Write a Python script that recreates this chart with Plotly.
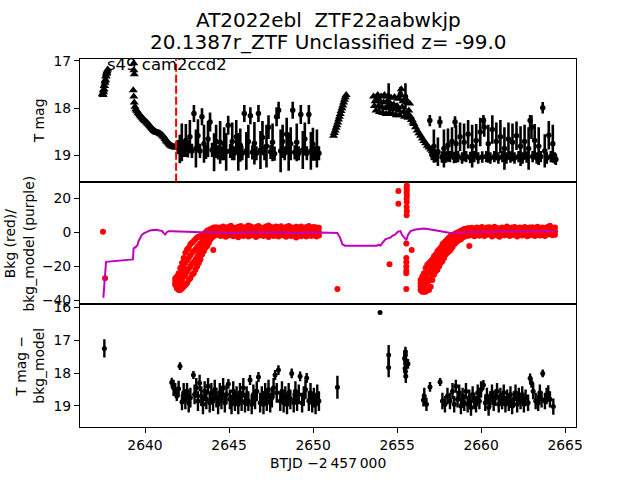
import plotly.graph_objects as go
from plotly.subplots import make_subplots

# ---------------- data (BTJD - 2457000) ----------------
# top panel: upper-limit triangles
lim_t = [2637.50, 2637.53, 2637.56, 2637.59, 2637.62, 2637.65, 2637.68, 2637.71, 2637.74,
         2637.47, 2637.52, 2637.57, 2637.62, 2637.67, 2637.72, 2637.78,
         2639.33, 2639.34, 2639.36,
         2639.30, 2639.33, 2639.36, 2639.40, 2639.45, 2639.55, 2639.65, 2639.75, 2639.85, 2639.95,
         2640.05, 2640.15, 2640.25, 2640.35, 2640.45, 2640.55, 2640.65, 2640.75, 2640.85, 2640.95,
         2641.05, 2641.15, 2641.25, 2641.35, 2641.45, 2641.55, 2641.65, 2641.75, 2641.85,
         2639.50, 2639.60, 2639.70, 2639.80, 2639.90, 2640.00, 2640.10, 2640.20, 2640.30, 2640.40,
         2640.50, 2640.60, 2640.70, 2640.80, 2640.90, 2641.00, 2641.10, 2641.20, 2641.30, 2641.40,
         2641.50, 2641.60, 2641.70, 2641.80,
         2651.22, 2651.27, 2651.32, 2651.37, 2651.42, 2651.47, 2651.52, 2651.57, 2651.62, 2651.67,
         2651.72, 2651.77, 2651.82, 2651.87, 2651.92, 2651.97,
         2653.60, 2653.70, 2653.80, 2653.90, 2654.00, 2654.10, 2654.20, 2654.30, 2654.40, 2654.50,
         2654.60, 2654.70, 2654.80, 2654.90, 2655.00, 2655.10, 2655.20, 2655.25, 2655.30, 2655.40,
         2655.50, 2655.60, 2655.70, 2655.75, 2655.80, 2655.90, 2656.00, 2656.10, 2656.20, 2656.30,
         2656.40, 2656.50, 2656.60, 2656.70, 2656.80, 2656.90, 2657.00, 2657.10, 2657.20, 2657.30,
         2653.65, 2653.75, 2653.85, 2653.95, 2654.05, 2654.15, 2654.25, 2654.35, 2654.45, 2654.55,
         2654.65, 2654.75, 2654.85, 2654.95, 2655.05, 2655.15, 2655.35, 2655.45, 2655.55, 2655.65,
         2655.85, 2655.95]
lim_m = [17.72, 17.66, 17.60, 17.53, 17.46, 17.40, 17.33, 17.27, 17.22,
         17.70, 17.62, 17.52, 17.42, 17.32, 17.25, 17.18,
         17.05, 17.20, 17.28,
         17.62, 17.75, 17.88, 17.97, 18.02, 18.07, 18.12, 18.17, 18.21, 18.25,
         18.28, 18.32, 18.36, 18.40, 18.44, 18.48, 18.50, 18.52, 18.53, 18.55,
         18.58, 18.62, 18.68, 18.72, 18.76, 18.79, 18.81, 18.82, 18.83,
         18.05, 18.10, 18.15, 18.19, 18.23, 18.27, 18.30, 18.34, 18.38, 18.42,
         18.46, 18.49, 18.51, 18.52, 18.54, 18.56, 18.60, 18.65, 18.70, 18.74,
         18.78, 18.80, 18.82, 18.83,
         18.58, 18.52, 18.47, 18.41, 18.36, 18.30, 18.24, 18.18, 18.12, 18.06,
         18.00, 17.94, 17.88, 17.82, 17.77, 17.72,
         17.75, 17.85, 17.80, 17.95, 17.85, 17.98, 17.88, 18.00, 17.86, 17.95,
         17.90, 18.02, 17.92, 18.00, 17.95, 18.05, 17.72, 17.60, 17.98, 18.08,
         17.80, 18.10, 18.05, 17.90, 18.18, 18.25, 18.33, 18.40, 18.47, 18.53,
         18.58, 18.64, 18.69, 18.74, 18.79, 18.83, 18.87, 18.90, 18.92, 18.94,
         17.95, 18.05, 17.72, 18.08, 17.75, 18.10, 17.72, 18.12, 17.75, 18.10,
         17.78, 18.12, 17.76, 18.15, 17.80, 18.15, 17.85, 18.18, 17.88, 18.20,
         18.25, 18.30]

# top panel: detections with errors
det_t = [2641.95, 2642.07, 2642.19, 2642.31, 2642.43, 2642.55, 2642.67, 2642.79, 2642.91, 2643.03,
         2643.15, 2643.27, 2643.39, 2643.51, 2643.63, 2643.75, 2643.87, 2643.99, 2644.11, 2644.23,
         2644.35, 2644.47, 2644.59, 2644.71, 2644.83, 2644.95, 2645.07, 2645.19, 2645.31, 2645.43,
         2645.55, 2645.67, 2645.79, 2645.91, 2646.03, 2646.15, 2646.27, 2646.39, 2646.51, 2646.63,
         2646.75, 2646.87, 2646.99, 2647.11, 2647.23, 2647.35, 2647.47, 2647.59, 2647.71, 2647.83,
         2647.95, 2648.07, 2648.19, 2648.31, 2648.43, 2648.55, 2648.67, 2648.79, 2648.91, 2649.03,
         2649.15, 2649.27, 2649.39, 2649.51, 2649.63, 2649.75, 2649.87, 2649.99, 2650.11, 2650.23,
         2650.35,
         2654.50, 2655.50, 2655.20,
         2656.95, 2657.07, 2657.19, 2657.31, 2657.43, 2657.55, 2657.67, 2657.79, 2657.91, 2658.03,
         2658.15, 2658.27, 2658.39, 2658.45, 2658.51, 2658.63, 2658.75, 2658.87, 2658.99, 2659.11,
         2659.23, 2659.35, 2659.47, 2659.59, 2659.71, 2659.83, 2659.95, 2660.07, 2660.14, 2660.19,
         2660.31, 2660.43, 2660.55, 2660.67, 2660.79, 2660.91, 2661.03, 2661.15, 2661.27, 2661.39,
         2661.51, 2661.63, 2661.75, 2661.87, 2661.99, 2662.11, 2662.23, 2662.35, 2662.47, 2662.59,
         2662.71, 2662.83, 2662.92, 2663.00, 2663.07, 2663.19, 2663.31, 2663.43, 2663.55, 2663.67,
         2663.79, 2663.91, 2664.03, 2664.15, 2664.27, 2664.39, 2664.45]
det_m = [18.82, 18.86, 18.72, 18.88, 18.68, 18.86, 18.60, 18.90, 18.11, 18.85,
         18.58, 18.90, 18.18, 18.75, 18.92, 18.65, 18.29, 18.88, 18.93, 18.70,
         18.93, 18.72, 18.95, 18.75, 18.92, 18.36, 18.90, 18.70, 18.95, 18.60,
         18.92, 18.78, 18.95, 18.11, 18.90, 18.70, 18.16, 18.93, 18.74, 18.95,
         18.11, 18.88, 18.62, 18.95, 18.80, 18.40, 18.92, 18.72, 18.96, 18.18,
         18.04, 18.90, 18.70, 18.95, 18.55, 18.92, 18.75, 18.04, 18.93, 18.72,
         18.95, 18.13, 18.88, 18.65, 18.95, 18.13, 18.90, 18.76, 18.96, 18.85,
         18.95,
         17.75, 17.75, 17.70,
         18.26, 18.98, 18.80, 19.02, 18.92, 18.29, 19.03, 18.85, 19.03, 18.78,
         19.02, 18.70, 19.04, 18.29, 18.75, 19.02, 18.60, 19.05, 18.72, 19.02,
         18.55, 19.04, 18.80, 19.02, 18.68, 19.05, 18.50, 19.03, 18.26, 18.40,
         19.02, 18.75, 19.05, 18.45, 19.02, 18.70, 19.05, 18.60, 19.02, 18.85,
         19.05, 18.65, 19.03, 18.72, 19.05, 18.58, 19.02, 18.80, 19.05, 18.70,
         19.03, 18.85, 18.26, 18.40, 19.02, 18.68, 19.05, 18.80, 19.02, 17.99,
         18.90, 19.05, 18.57, 19.02, 18.75, 19.05, 19.08]
det_e = [0.15, 0.30, 0.40, 0.15, 0.35, 0.18, 0.35, 0.15, 0.18, 0.40,
         0.35, 0.15, 0.18, 0.40, 0.15, 0.38, 0.20, 0.15, 0.40, 0.35,
         0.15, 0.45, 0.15, 0.35, 0.40, 0.20, 0.15, 0.40, 0.15, 0.35,
         0.40, 0.35, 0.15, 0.18, 0.40, 0.35, 0.18, 0.15, 0.45, 0.15,
         0.18, 0.40, 0.35, 0.15, 0.45, 0.25, 0.15, 0.40, 0.15, 0.20,
         0.18, 0.45, 0.35, 0.15, 0.35, 0.40, 0.35, 0.18, 0.15, 0.40,
         0.15, 0.20, 0.40, 0.35, 0.15, 0.20, 0.40, 0.35, 0.15, 0.40,
         0.15,
         0.28, 0.28, 0.15,
         0.12, 0.12, 0.35, 0.12, 0.30, 0.12, 0.12, 0.40, 0.12, 0.35,
         0.12, 0.30, 0.12, 0.12, 0.40, 0.12, 0.30, 0.12, 0.40, 0.12,
         0.30, 0.12, 0.45, 0.12, 0.35, 0.12, 0.30, 0.12, 0.12, 0.20,
         0.12, 0.40, 0.12, 0.30, 0.12, 0.40, 0.12, 0.35, 0.12, 0.45,
         0.12, 0.35, 0.12, 0.40, 0.12, 0.30, 0.12, 0.42, 0.12, 0.35,
         0.12, 0.45, 0.12, 0.25, 0.12, 0.35, 0.12, 0.40, 0.12, 0.12,
         0.35, 0.12, 0.30, 0.12, 0.40, 0.12, 0.12]

# middle panel: background (red)
rise1_t = [2641.8, 2641.9, 2642.0, 2642.1, 2642.2, 2642.3, 2642.4, 2642.5, 2642.6, 2642.7,
           2642.8, 2642.9, 2643.0, 2643.1, 2643.2, 2643.3, 2643.4, 2643.5, 2643.6, 2643.7,
           2643.8, 2643.9, 2644.0, 2644.1, 2644.2, 2644.3]
rise1_a = [-27, -26, -24, -21, -18, -15, -12, -10, -9, -7, -6, -5, -4, -3, -2.5, -2, -1.5, -1, 0, 1,
           1.5, 2, 2.5, 3, 3, 3]
rise1_b = [-28.5, -28.5, -27.5, -25.5, -23, -20.5, -18, -16.5, -15, -13.5, -12, -11, -10, -8.5, -7.5,
           -6.5, -5.5, -4.5, -3, -2, -1, -0.5, 0.5, 1, 1.5, 1.5]
rise1_c = [-30, -31, -31, -30, -28, -26, -25, -23, -21.5, -20, -18.5, -17.5, -16, -14.5, -13,
           -11.5, -9.5, -8, -6, -5, -3.5, -2.5, -1.5, -0.5, 0, 0.5]
rise1_d = [-31, -33, -34, -34, -33, -32, -31, -30, -28, -27, -25, -24, -22, -20, -18, -16, -13,
           -11, -9, -8, -6, -4, -3, -2, -1, -1]

flat1_t = [2644.35, 2644.50, 2644.65, 2644.80, 2644.95, 2645.10, 2645.25, 2645.40, 2645.55, 2645.70,
           2645.85, 2646.00, 2646.15, 2646.30, 2646.45, 2646.60, 2646.75, 2646.90, 2647.05, 2647.20,
           2647.35, 2647.50, 2647.65, 2647.80, 2647.95, 2648.10, 2648.25, 2648.40, 2648.55, 2648.70,
           2648.85, 2649.00, 2649.15, 2649.30, 2649.45, 2649.60, 2649.75, 2649.90, 2650.05, 2650.20,
           2650.35]
flat1_hi = [2.5, 3.0, 3.5, 2.8, 3.2, 4.0, 3.0, 2.6, 3.4, 3.8, 2.9, 3.1, 4.2, 3.5, 2.7, 3.3, 3.9, 3.0,
            2.8, 3.6, 4.1, 3.2, 2.9, 3.5, 3.0, 3.7, 2.6, 3.3, 3.9, 3.1, 2.8, 3.4, 3.0, 3.6, 2.7, 3.2,
            3.8, 2.9, 3.3, 3.0, 2.8]
flat1_mid = [0.8, 0.5, 1.2, 0.3, 0.9, 1.4, 0.6, 0.2, 1.0, 1.3, 0.4, 0.7, 1.5, 0.9, 0.1, 0.8, 1.2, 0.5,
             0.3, 1.1, 1.4, 0.6, 0.2, 0.9, 0.5, 1.2, 0.1, 0.7, 1.3, 0.6, 0.3, 0.9, 0.4, 1.1, 0.2, 0.7,
             1.2, 0.4, 0.8, 0.5, 0.3]
flat1_lo = [-1.5, -2.0, -1.0, -2.5, -1.8, -1.2, -2.2, -1.6, -2.8, -1.4, -2.0, -1.1, -2.4, -1.7, -1.0,
            -2.6, -1.9, -1.3, -2.1, -1.5, -2.7, -1.2, -2.0, -1.6, -2.3, -1.1, -1.8, -2.5, -1.4, -2.0,
            -1.7, -2.9, -1.3, -2.2, -1.5, -2.4, -1.0, -2.1, -1.6, -2.3, -1.8]

rise2_t = [2656.4, 2656.5, 2656.6, 2656.7, 2656.8, 2656.9, 2657.0, 2657.1, 2657.2, 2657.3,
           2657.4, 2657.5, 2657.6, 2657.7, 2657.8, 2657.9, 2658.0, 2658.1, 2658.2, 2658.3,
           2658.4, 2658.5, 2658.6, 2658.7, 2658.8, 2658.9, 2659.0, 2659.1, 2659.2]
rise2_a = [-28, -26, -24, -21, -19, -18, -17, -16, -14, -13, -11, -10, -9, -7, -6, -5, -4, -3, -2,
           -1.5, -1, -0.5, 0, 0.5, 1, 1.5, 2, 2.2, 2.5]
rise2_b = [-30, -29, -28, -26, -24, -23, -22, -20, -18, -16.5, -14.5, -13.5, -12, -10.5, -9, -8, -7,
           -6, -5, -4, -3, -2.5, -2, -1.5, -0.5, 0, 0.5, 0.8, 1]
rise2_c = [-32, -32, -31.5, -30.5, -29, -28.5, -27, -24, -21.5, -20, -18, -17, -15, -14, -12, -10.5,
           -9.5, -8.5, -7.5, -6.5, -5, -4, -3.5, -3, -2, -1.5, -1, -0.5, -0.2]
rise2_d = [-34, -35, -35, -35, -34, -34, -32, -28, -25, -23, -22, -20, -18, -17, -15, -13, -12, -11,
           -10, -8.5, -7, -6, -5, -4.5, -4, -3, -2.5, -2, -1.8]

flat2_t = [2659.30, 2659.45, 2659.60, 2659.75, 2659.90, 2660.05, 2660.20, 2660.35, 2660.50, 2660.65,
           2660.80, 2660.95, 2661.10, 2661.25, 2661.40, 2661.55, 2661.70, 2661.85, 2662.00, 2662.15,
           2662.30, 2662.45, 2662.60, 2662.75, 2662.90, 2663.05, 2663.20, 2663.35, 2663.50, 2663.65,
           2663.80, 2663.95, 2664.10, 2664.25, 2664.40]
flat2_hi = [2.5, 2.8, 2.2, 3.0, 2.6, 3.3, 2.4, 2.9, 3.1, 2.5, 3.4, 2.7, 2.3, 3.0, 2.8, 3.5, 2.6, 2.9,
            3.2, 2.4, 3.0, 2.7, 3.3, 2.5, 2.9, 3.1, 2.6, 3.4, 2.8, 3.0, 2.5, 3.2, 4.0, 2.8, 3.0]
flat2_mid = [0.3, 0.6, 0.0, 0.8, 0.4, 1.0, 0.2, 0.7, 0.9, 0.3, 1.1, 0.5, 0.1, 0.8, 0.6, 1.2, 0.4, 0.7,
             1.0, 0.2, 0.8, 0.5, 1.1, 0.3, 0.7, 0.9, 0.4, 1.2, 0.6, 0.8, 0.3, 1.0, 1.3, 0.6, 0.8]
flat2_lo = [-1.8, -1.5, -2.2, -1.2, -1.9, -1.0, -2.0, -1.4, -1.1, -2.3, -1.2, -1.7, -2.5, -1.3, -1.6,
            -1.0, -2.1, -1.5, -1.2, -2.4, -1.4, -1.8, -1.1, -2.2, -1.6, -1.3, -2.0, -1.0, -1.7, -1.5,
            -2.1, -1.2, -1.0, -1.6, -1.4]

bkg_other_t = [2637.50, 2637.62, 2644.06, 2651.45, 2654.55, 2655.08, 2655.08,
               2655.58, 2655.57, 2655.58, 2655.57, 2655.58, 2655.57, 2655.58, 2655.57, 2655.58, 2655.57,
               2655.55, 2655.55, 2655.55, 2655.55, 2655.55, 2655.55, 2655.55, 2655.87, 2659.30]
bkg_other_v = [0.5, -27.0, -10.4, -33.4, -18.8, 24.5, 17.0,
               27.8, 26.5, 25.0, 23.5, 22.0, 20.0, 18.0, 15.0, 12.5, 10.2,
               -6.5, -15.0, -17.5, -20.0, -22.5, -24.0, -33.4, -10.4, -8.0]

# middle panel: background model (purple)
model_t = [2637.52, 2637.55, 2637.58, 2637.62, 2637.65, 2637.68, 2639.28, 2639.32, 2639.45, 2639.55,
           2639.62, 2639.70, 2639.80, 2639.90, 2640.10, 2640.30, 2640.50, 2640.70, 2640.85, 2641.00,
           2641.10, 2641.20, 2641.30, 2641.40, 2641.60, 2641.90, 2642.50, 2643.30, 2644.00, 2645.00,
           2645.50, 2646.00, 2647.00, 2647.50, 2648.00, 2649.00, 2649.50, 2650.00, 2650.40, 2651.45,
           2651.60, 2651.75, 2651.90, 2653.80, 2653.90, 2654.00, 2654.10, 2654.20, 2654.30, 2654.45,
           2654.60, 2654.75, 2654.90, 2655.05, 2655.20, 2655.30, 2655.45, 2655.55, 2655.65, 2655.80,
           2656.10, 2656.60, 2657.00, 2657.60, 2658.00, 2658.35, 2658.80, 2659.50, 2660.50, 2661.50,
           2662.50, 2663.50, 2664.40]
model_v = [-38.5, -35.0, -31.0, -29.0, -22.0, -17.3, -15.9, -9.5, -8.5, -7.5,
           -5.0, -3.4, -1.5, -0.7, 0.5, 1.2, 1.5, 1.6, 1.2, 1.0,
           -0.2, -1.2, 0.2, 0.8, 0.8, 0.8, 0.5, 0.2, 0.1, 0.2,
           -0.3, 0.1, 0.2, -0.2, 0.1, -0.4, 0.2, -0.2, 0.0, -0.3,
           -3.0, -7.0, -7.8, -7.8, -7.2, -7.8, -6.5, -5.0, -4.0, -3.5,
           -3.0, -1.8, -1.2, 0.5, 0.8, -1.5, -3.5, -4.5, -1.5, 0.8,
           1.8, 2.3, 1.8, 0.8, 0.0, -0.6, 0.0, 0.3, 0.5, 0.6,
           0.8, 0.8, 0.8]

# bottom panel: T mag - bkg_model
sub_t = [2637.58, 2651.45, 2653.99, 2654.50, 2654.50, 2655.45, 2655.50, 2655.50, 2655.50, 2655.52,
         2655.48, 2655.50, 2655.52, 2655.65,
         2641.59, 2641.70, 2641.80, 2641.89, 2642.00, 2642.08, 2642.20, 2642.30, 2642.40, 2642.50,
         2642.60, 2642.70, 2642.88, 2642.95, 2643.05, 2643.15, 2643.25, 2643.35, 2643.45, 2643.55,
         2643.65, 2643.75, 2643.85, 2643.95, 2644.05, 2644.15, 2644.25, 2644.35, 2644.45, 2644.55,
         2644.65, 2644.75, 2644.85, 2644.96, 2645.05, 2645.15, 2645.25, 2645.35, 2645.45, 2645.55,
         2645.65, 2645.75, 2645.85, 2645.95, 2646.05, 2646.15, 2646.25, 2646.35, 2646.45, 2646.55,
         2646.65, 2646.75, 2646.85, 2646.95, 2647.05, 2647.15, 2647.25, 2647.35, 2647.45, 2647.55,
         2647.65, 2647.74, 2647.84, 2647.94, 2648.05, 2648.15, 2648.25, 2648.35, 2648.45, 2648.55,
         2648.65, 2648.73, 2648.85, 2648.95, 2649.05, 2649.15, 2649.23, 2649.35, 2649.45, 2649.55,
         2649.62, 2649.75, 2649.85, 2649.95, 2650.05, 2650.15, 2650.25, 2650.35,
         2656.57, 2656.62, 2656.75, 2656.96, 2657.56, 2657.70, 2657.85, 2658.00, 2658.15, 2658.30,
         2658.40, 2658.50, 2658.60, 2658.70, 2658.80, 2658.90, 2659.00, 2659.10, 2659.20, 2659.30,
         2659.40, 2659.50, 2659.60, 2659.70, 2659.80, 2659.90, 2660.00, 2660.14, 2660.25, 2660.35,
         2660.45, 2660.55, 2660.65, 2660.75, 2660.85, 2660.95, 2661.05, 2661.15, 2661.25, 2661.35,
         2661.45, 2661.55, 2661.65, 2661.75, 2661.85, 2661.95, 2662.05, 2662.15, 2662.25, 2662.35,
         2662.45, 2662.55, 2662.65, 2662.80, 2662.92, 2663.00, 2663.10, 2663.25, 2663.40, 2663.50,
         2663.60, 2663.67, 2663.80, 2663.90, 2664.00, 2664.10, 2664.30]
sub_m = [17.25, 18.43, 16.16, 17.45, 17.83, 17.55, 17.35, 17.45, 17.60, 17.72,
         17.85, 17.95, 18.10, 17.72,
         18.29, 18.45, 18.50, 18.70, 18.48, 17.79, 18.88, 18.60, 18.80, 18.55,
         18.90, 18.75, 18.06, 18.65, 18.45, 18.85, 18.30, 18.70, 18.95, 18.55,
         18.80, 18.40, 18.90, 18.60, 18.85, 18.50, 18.75, 18.95, 18.60, 18.80,
         18.45, 18.90, 18.65, 18.33, 18.80, 18.95, 18.55, 18.85, 18.70, 18.95,
         18.60, 18.85, 18.45, 18.90, 18.70, 18.85, 18.21, 18.95, 18.65, 18.80,
         18.55, 18.12, 18.90, 18.70, 18.95, 18.60, 18.85, 18.50, 18.90, 18.75,
         18.45, 18.06, 18.60, 17.91, 18.85, 18.55, 18.90, 18.70, 18.95, 18.60,
         18.80, 18.01, 18.90, 18.55, 18.85, 18.65, 18.10, 18.90, 18.70, 18.50,
         18.15, 18.85, 18.60, 18.90, 18.75, 18.95, 18.65, 18.85,
         18.82, 18.70, 18.95, 18.42, 18.27, 18.85, 18.95, 18.70, 18.85, 18.55,
         18.95, 18.40, 18.80, 18.60, 19.00, 18.70, 18.90, 18.55, 18.95, 18.75,
         19.05, 18.65, 18.85, 18.95, 18.60, 18.85, 18.50, 18.36, 18.90, 18.70,
         19.05, 18.80, 18.60, 18.90, 18.75, 18.55, 18.95, 18.70, 18.85, 18.60,
         18.95, 18.75, 18.90, 18.65, 19.00, 18.80, 18.60, 18.95, 18.70, 18.85,
         18.65, 18.95, 18.75, 18.90, 18.16, 18.30, 18.55, 18.85, 18.90, 18.60,
         18.80, 18.01, 18.85, 18.70, 18.62, 18.80, 19.02]
sub_e = [0.28, 0.35, 0.0, 0.30, 0.30, 0.20, 0.15, 0.15, 0.20, 0.20,
         0.20, 0.20, 0.20, 0.15,
         0.15, 0.25, 0.20, 0.15, 0.25, 0.12, 0.25, 0.30, 0.30, 0.25,
         0.30, 0.30, 0.12, 0.30, 0.30, 0.30, 0.25, 0.30, 0.30, 0.30,
         0.30, 0.25, 0.30, 0.30, 0.30, 0.30, 0.30, 0.30, 0.30, 0.30,
         0.30, 0.30, 0.30, 0.15, 0.30, 0.30, 0.30, 0.30, 0.30, 0.30,
         0.30, 0.30, 0.30, 0.30, 0.30, 0.30, 0.15, 0.30, 0.30, 0.30,
         0.30, 0.15, 0.30, 0.30, 0.30, 0.30, 0.30, 0.30, 0.30, 0.30,
         0.30, 0.15, 0.30, 0.15, 0.30, 0.30, 0.30, 0.30, 0.30, 0.30,
         0.30, 0.15, 0.30, 0.30, 0.30, 0.30, 0.15, 0.30, 0.30, 0.30,
         0.15, 0.30, 0.30, 0.30, 0.30, 0.30, 0.30, 0.30,
         0.20, 0.25, 0.20, 0.15, 0.12, 0.25, 0.25, 0.25, 0.25, 0.25,
         0.25, 0.20, 0.25, 0.25, 0.25, 0.25, 0.25, 0.25, 0.25, 0.25,
         0.25, 0.25, 0.25, 0.25, 0.25, 0.25, 0.25, 0.15, 0.25, 0.25,
         0.25, 0.25, 0.25, 0.25, 0.25, 0.25, 0.25, 0.25, 0.25, 0.25,
         0.25, 0.25, 0.25, 0.25, 0.25, 0.25, 0.25, 0.25, 0.25, 0.25,
         0.25, 0.25, 0.25, 0.25, 0.15, 0.15, 0.25, 0.25, 0.25, 0.25,
         0.25, 0.12, 0.25, 0.25, 0.25, 0.25, 0.25]

sector_label = "s49 cam2ccd2"
sector_start = 2641.85
title1 = "AT2022ebl  ZTF22aabwkjp"
title2 = "20.1387r_ZTF Unclassified z= -99.0"
xticks = [2640, 2645, 2650, 2655, 2660, 2665]

# ---------------- figure ----------------
FONT = "DejaVu Sans"
fig = make_subplots(rows=3, cols=1, shared_xaxes=True, vertical_spacing=0)

fig.add_trace(go.Scatter(x=det_t, y=det_m, mode="markers",
                         marker=dict(color="black", size=5.5),
                         error_y=dict(type="data", array=det_e, thickness=2.6, width=0, color="black")),
              row=1, col=1)
fig.add_trace(go.Scatter(x=lim_t, y=lim_m, mode="markers",
                         marker=dict(color="black", size=8, symbol="triangle-up")),
              row=1, col=1)

red_t = (rise1_t * 4 + flat1_t * 3 + rise2_t * 4 + flat2_t * 3 + bkg_other_t)
red_v = (rise1_a + rise1_b + rise1_c + rise1_d + flat1_hi + flat1_mid + flat1_lo
         + rise2_a + rise2_b + rise2_c + rise2_d + flat2_hi + flat2_mid + flat2_lo + bkg_other_v)
fig.add_trace(go.Scatter(x=red_t, y=red_v, mode="markers",
                         marker=dict(color="red", size=6)), row=2, col=1)
fig.add_trace(go.Scatter(x=model_t, y=model_v, mode="lines",
                         line=dict(color="#bf00bf", width=2)), row=2, col=1)

fig.add_trace(go.Scatter(x=sub_t, y=sub_m, mode="markers",
                         marker=dict(color="black", size=5),
                         error_y=dict(type="data", array=sub_e, thickness=2.4, width=0, color="black")),
              row=3, col=1)

fig.add_shape(type="line", xref="x", yref="y domain", x0=sector_start, x1=sector_start, y0=0, y1=1,
              line=dict(color="red", width=2, dash="8px,3px"))

axis_common = dict(showline=True, linecolor="black", linewidth=1, mirror=True, showgrid=False,
                   zeroline=False, tickfont=dict(family=FONT, size=13.9, color="black"),
                   tickcolor="black", ticklen=5, tickwidth=1)
xr = [2636.13, 2665.65]
fig.update_layout(
    xaxis=dict(range=xr, ticks="", showticklabels=False, **axis_common),
    xaxis2=dict(range=xr, ticks="", showticklabels=False, **axis_common),
    xaxis3=dict(range=xr, ticks="outside", tickvals=xticks, showticklabels=True, **axis_common),
    yaxis=dict(range=[19.55, 16.96], ticks="outside", tickvals=[17, 18, 19], **axis_common),
    yaxis2=dict(range=[-42.4, 30], ticks="outside", tickvals=[20, 0, -20, -40], **axis_common),
    yaxis3=dict(range=[19.64, 15.91], ticks="outside", tickvals=[16, 17, 18, 19], **axis_common),
)

ann = [
    dict(text=title1, x=0.5, y=1.106, xref="paper", yref="paper", showarrow=False,
         font=dict(family=FONT, size=20, color="black"), xanchor="center", yanchor="middle"),
    dict(text=title2, x=0.5, y=1.046, xref="paper", yref="paper", showarrow=False,
         font=dict(family=FONT, size=20, color="black"), xanchor="center", yanchor="middle"),
    dict(text=sector_label, x=2637.62, y=17.07, xref="x", yref="y", showarrow=False,
         font=dict(family=FONT, size=16.5, color="black"), xanchor="left", yanchor="middle"),
    dict(text="T mag", x=-0.0827, y=5 / 6, xref="paper", yref="paper", showarrow=False,
         textangle=-90, font=dict(family=FONT, size=13.9, color="black"),
         xanchor="center", yanchor="middle"),
    dict(text="Bkg (red)/<br>bkg_model (purple)", x=-0.122, y=0.5, xref="paper", yref="paper",
         showarrow=False, textangle=-90, font=dict(family=FONT, size=13.9, color="black"),
         xanchor="center", yanchor="middle"),
    dict(text="T mag \u2212<br>bkg_model", x=-0.1008, y=1 / 6, xref="paper", yref="paper",
         showarrow=False, textangle=-90, font=dict(family=FONT, size=13.9, color="black"),
         xanchor="center", yanchor="middle"),
    dict(text="BTJD \u22122\u2009457\u2009000", x=0.5, y=-0.098, xref="paper", yref="paper",
         showarrow=False, font=dict(family=FONT, size=13.9, color="black"),
         xanchor="center", yanchor="middle"),
]
fig.update_layout(
    width=640, height=480, showlegend=False,
    margin=dict(l=80, r=64, t=59, b=53, pad=0),
    plot_bgcolor="white", paper_bgcolor="white",
    annotations=ann,
    font=dict(family=FONT, color="black"),
)

fig.write_html("out.html", config={"displayModeBar": False},
               post_script="document.body.style.margin='0px';document.body.style.overflow='hidden';")
